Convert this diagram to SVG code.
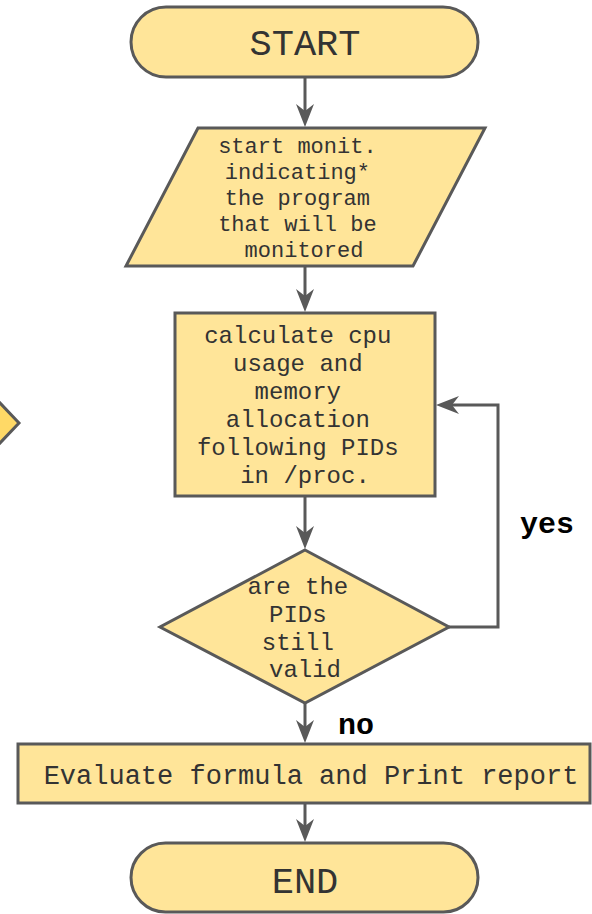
<svg xmlns="http://www.w3.org/2000/svg" width="592" height="914" viewBox="0 0 592 914">
<defs>
<style>
.shape{fill:#ffe599;stroke:#595959;stroke-width:3;stroke-linejoin:miter}
.t{font-family:"Liberation Mono","Courier New",monospace;fill:#333333;text-anchor:middle}
.lbl{font-family:"Liberation Mono","Courier New",monospace;fill:#000000;font-weight:bold;text-anchor:start;font-size:30px}
.conn{fill:none;stroke:#595959;stroke-width:3;marker-end:url(#arr)}
</style>
<marker id="arr" markerUnits="userSpaceOnUse" markerWidth="26" markerHeight="22" viewBox="-24 -11 26 22" refX="-6" refY="0" orient="auto">
<path d="M0,0 L-23,-9 L-16,0 L-23,9 Z" fill="#595959"/>
</marker>
</defs>
<rect width="592" height="914" fill="#ffffff"/>

<g id="offscreen-decision">
<polygon points="19,423 -40,361 -100,423 -40,485" fill="#ffd966" stroke="#595959" stroke-width="3"/>
</g>

<g id="connectors">
<path class="conn" d="M305,78 V121"/>
<path class="conn" d="M305,266 V306"/>
<path class="conn" d="M305,497 V543"/>
<path class="conn" d="M449,627 H498 V405 H442"/>
<path class="conn" d="M305,703 V737"/>
<path class="conn" d="M305,803 V836"/>
</g>

<g id="start">
<rect class="shape" x="131" y="7" width="347" height="70" rx="35" ry="35"/>
<text class="t" x="305" y="55" font-size="37">START</text>
</g>

<g id="input">
<polygon class="shape" points="198,128 485,128 413,266 126,266"/>
<text class="t" font-size="22">
<tspan x="304" y="153">start monit.</tspan>
<tspan x="304" y="179">indicating*</tspan>
<tspan x="304" y="205">the program</tspan>
<tspan x="304" y="231">that will be</tspan>
<tspan x="304" y="257">monitored</tspan>
</text>
</g>

<g id="calc">
<rect class="shape" x="175" y="313" width="260" height="183"/>
<text class="t" font-size="24">
<tspan x="305" y="343">calculate cpu</tspan>
<tspan x="305" y="371">usage and</tspan>
<tspan x="305" y="399">memory</tspan>
<tspan x="305" y="427">allocation</tspan>
<tspan x="305" y="455">following PIDs</tspan>
<tspan x="305" y="483">in /proc.</tspan>
</text>
</g>

<g id="decision">
<polygon class="shape" points="305,550 449,627 305,703 160,627"/>
<text class="t" font-size="24">
<tspan x="305" y="594">are the</tspan>
<tspan x="305" y="622">PIDs</tspan>
<tspan x="305" y="650">still</tspan>
<tspan x="305" y="677">valid</tspan>
</text>
</g>

<g id="labels">
<text class="lbl" x="520" y="533">yes</text>
<text class="lbl" x="338" y="734">no</text>
</g>

<g id="report">
<rect class="shape" x="18" y="744" width="572" height="59"/>
<text class="t" x="311" y="784" font-size="27">Evaluate formula and Print report</text>
</g>

<g id="end">
<rect class="shape" x="131" y="843" width="347" height="69" rx="34.5" ry="34.5"/>
<text class="t" x="305" y="893" font-size="37">END</text>
</g>
</svg>
